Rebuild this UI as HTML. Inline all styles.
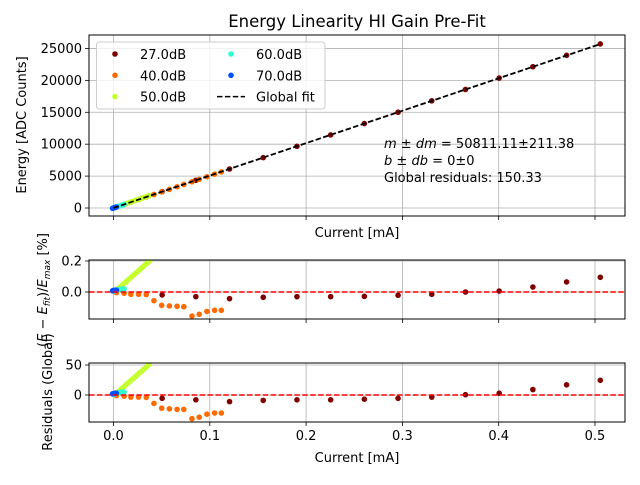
<!DOCTYPE html>
<html><head><meta charset="utf-8"><style>
body{margin:0;background:#fff}
svg text{font-family:"DejaVu Sans","Liberation Sans",sans-serif;font-size:13px;fill:#000}
</style></head><body>
<svg id="chart" width="640" height="480" xmlns="http://www.w3.org/2000/svg">
<rect width="640" height="480" fill="#fff"/>
<text x="357" y="27" text-anchor="middle" style="font-size:16.5px">Energy Linearity HI Gain Pre-Fit</text>
<g id="top"></g>
<g id="mid"></g>
<g id="bot"></g>
<text transform="translate(26,125) rotate(-90)" text-anchor="middle">Energy [ADC Counts]</text>
<text transform="translate(47,290) rotate(-90)" text-anchor="middle">(<tspan font-style="italic">E</tspan> − <tspan font-style="italic">E</tspan><tspan font-size="9" font-style="italic" dy="3">fit</tspan><tspan dy="-3">)/</tspan><tspan font-style="italic">E</tspan><tspan font-size="9" font-style="italic" dy="3">max</tspan><tspan dy="-3"> [%]</tspan></text>
<text transform="translate(52,392) rotate(-90)" text-anchor="middle">Residuals (Global)</text>
<text x="357" y="237" text-anchor="middle">Current [mA]</text>
<text x="357" y="462" text-anchor="middle">Current [mA]</text>
<g>
<text x="384" y="148"><tspan font-style="italic">m</tspan> ± <tspan font-style="italic">dm</tspan> = 50811.11±211.38</text>
<text x="384" y="165"><tspan font-style="italic">b</tspan> ± <tspan font-style="italic">db</tspan> = 0±0</text>
<text x="384" y="182">Global residuals: 150.33</text>
</g>
</svg>
<script>
const slope = 50811.11;
const x27 = [0.0505,0.0855,0.1205,0.1555,0.1905,0.2255,0.2605,0.2955,0.3305,0.3655,0.4005,0.4355,0.4705,0.5055];
const res27 = [-5.5,-8,-11,-9,-8,-8,-7,-5.5,-3.5,0.5,3,9,17,24.5];
const pct27 = [-0.019,-0.030,-0.043,-0.034,-0.030,-0.030,-0.028,-0.021,-0.015,0.0,0.006,0.032,0.065,0.095];
const x40 = [0.003,0.011,0.018,0.026,0.034,0.042,0.050,0.058,0.066,0.073,0.0815,0.089,0.097,0.105,0.112];
const res40 = [-1,-2,-3.5,-3.5,-4,-14,-22,-23,-24,-24,-39.5,-37,-32,-30,-30];
const pct40 = [-0.004,-0.008,-0.015,-0.015,-0.017,-0.056,-0.086,-0.09,-0.092,-0.095,-0.155,-0.144,-0.125,-0.118,-0.118];
const x50 = [0.003,0.005,0.007,0.009,0.011,0.013,0.015,0.017,0.019,0.021,0.023,0.025,0.027,0.029,0.031,0.033,0.035,0.037];
const res50 = [3,5.5,8.5,11,14,17,20,22.5,25.5,28,31,34,37,39.5,42.5,45,48,51];
const pct50 = [0.012,0.022,0.033,0.044,0.055,0.066,0.077,0.088,0.099,0.11,0.121,0.132,0.143,0.154,0.165,0.176,0.187,0.198];
const x60 = [0.000,0.002,0.004,0.006,0.008,0.010,0.011];
const res60 = [1,2.5,3.5,4,4.5,5,5];
const pct60 = [0.005,0.01,0.014,0.016,0.018,0.02,0.02];
const x70 = [-0.001,0.0,0.001,0.002,0.003];
const res70 = [2,2.5,2.5,3,3];
const pct70 = [0.008,0.01,0.01,0.012,0.012];
const xTicks = [0.0,0.1,0.2,0.3,0.4,0.5];
const xTickLabels = ["0.0","0.1","0.2","0.3","0.4","0.5"];
const eTicks = [0,5000,10000,15000,20000,25000];
const pTicks = [0.0,0.2];
const pTickLabels = ["0.0","0.2"];
const rTicks = [0,50];
const fitRange = [0,0.5055];

const NS="http://www.w3.org/2000/svg";
const L=89,R=625;
const sx=v=>113.5+v*963;
const panels={
 top:{t:35,b:216,y:v=>208-v*0.006382},
 mid:{t:260,b:319,y:v=>292-v*155},
 bot:{t:363,b:422,y:v=>395-v*0.6}
};
function mk(tag,attrs,parent){const e=document.createElementNS(NS,tag);for(const k in attrs)e.setAttribute(k,attrs[k]);parent.appendChild(e);return e;}
const series=[
 {n:'27dB',c:'#7f0000',x:x27,r:res27,p:pct27},
 {n:'40dB',c:'#ff6a00',x:x40,r:res40,p:pct40},
 {n:'50dB',c:'#c6ff30',x:x50,r:res50,p:pct50},
 {n:'60dB',c:'#30ffd0',x:x60,r:res60,p:pct60},
 {n:'70dB',c:'#0050ff',x:x70,r:res70,p:pct70}
];
function axes(key,yt,ylab,showX){
 const P=panels[key],g=document.getElementById(key);
 for(const t of xTicks){const l=mk('line',{x1:sx(t),x2:sx(t),y1:P.t,y2:P.b,stroke:'#b0b0b0','stroke-width':0.8},g);
  
  mk('line',{x1:sx(t),x2:sx(t),y1:P.b,y2:P.b+4,stroke:'#000','stroke-width':0.8},g);}
 yt.forEach((t,i)=>{const y=P.y(t);const l=mk('line',{x1:L,x2:R,y1:y,y2:y,stroke:'#b0b0b0','stroke-width':0.8},g);
  
  mk('line',{x1:L-4,x2:L,y1:y,y2:y,stroke:'#000','stroke-width':0.8},g);
  const tx=mk('text',{x:L-7,y:y+4.5,'text-anchor':'end'},g);tx.textContent=ylab[i];
  });
 if(showX) xTicks.forEach((t,i)=>{const tx=mk('text',{x:sx(t),y:P.b+18,'text-anchor':'middle'},g);tx.textContent=xTickLabels[i];
  });
 return g;
}
function frame(key){const P=panels[key],g=document.getElementById(key);
 const f=mk('rect',{x:L,y:P.t,width:R-L,height:P.b-P.t,fill:'none',stroke:'#000','stroke-width':1},g);
 }
function pts(key,val){const P=panels[key],g=document.getElementById(key);
 const cg=mk('g',{'clip-path':'url(#clip-'+key+')'},g);
 for(const s of series){s.x.forEach((x,i)=>{const c=mk('circle',{cx:sx(x),cy:P.y(val(s,i)),r:2.8,fill:s.c},cg);
  });}
 return cg;
}
const defs=mk('defs',{},document.getElementById('chart'));
for(const k in panels){const cp=mk('clipPath',{id:'clip-'+k},defs);mk('rect',{x:L,y:panels[k].t,width:R-L,height:panels[k].b-panels[k].t},cp);}
axes('top',eTicks,eTicks.map(String),false);
axes('mid',pTicks,pTickLabels,false);
axes('bot',rTicks,rTicks.map(String),true);
pts('top',(s,i)=>slope*s.x[i]+s.r[i]);
const cgT=document.getElementById('top');
const fl=mk('line',{x1:sx(fitRange[0]),x2:sx(fitRange[1]),y1:panels.top.y(slope*fitRange[0]),y2:panels.top.y(slope*fitRange[1]),stroke:'#000','stroke-width':1.8,'stroke-dasharray':'5.5,2.4'},cgT);

pts('mid',(s,i)=>s.p[i]);
pts('bot',(s,i)=>s.r[i]);
for(const k of ['mid','bot']){const P=panels[k];const l=mk('line',{x1:L,x2:R,y1:P.y(0),y2:P.y(0),stroke:'#ff0000','stroke-width':1.5,'stroke-dasharray':'5.5,2.4'},document.getElementById(k));
 }
for(const k in panels) frame(k);
const lg=mk('g',{},document.getElementById('top'));

mk('rect',{x:96.5,y:42,width:228.5,height:67,rx:3,fill:'#fff','fill-opacity':0.8,stroke:'#ccc','stroke-width':1},lg);
const lgItems=[[0,0,'27.0dB'],[0,1,'40.0dB'],[0,2,'50.0dB'],[1,0,'60.0dB'],[1,1,'70.0dB']];
lgItems.forEach((it,i)=>{const cx=it[0]?231:115,cy=54+it[1]*21.3;
 const e=mk('g',{},lg);
 mk('circle',{cx:cx,cy:cy,r:2.8,fill:series[i].c},e);
 const t=mk('text',{x:it[0]?256:140,y:cy+5},e);t.textContent=it[2];});
const fe=mk('g',{},lg);
mk('line',{x1:217,x2:245,y1:96.6,y2:96.6,stroke:'#000','stroke-width':1.5,'stroke-dasharray':'5.5,2.4'},fe);
const ft=mk('text',{x:256,y:101.6},fe);ft.textContent='Global fit';
</script>
</body></html>
